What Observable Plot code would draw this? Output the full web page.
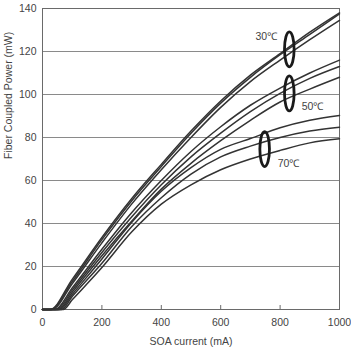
<!DOCTYPE html>
<html>
<head>
<meta charset="utf-8">
<script src="https://cdn.jsdelivr.net/npm/d3@7"></script>
<script src="https://cdn.jsdelivr.net/npm/@observablehq/plot@0.6"></script>
<style>
  html, body { margin: 0; padding: 0; background: #fff; }
  #chart { width: 351px; height: 351px; }
</style>
</head>
<body>
<div id="chart"></div>
<script>
// SOA current (mA) at which each power value is sampled
const current = [100, 200, 300, 400, 500, 600, 700, 800, 900, 1000];

// Lasing threshold (mA) of each curve, below which power stays at 0
const threshold30 = [25, 28, 32];
const threshold50 = [42, 48, 54];
const threshold70 = [58, 64, 70];

// Fiber coupled power (mW) at 30 ℃
const power30a = [14, 33.5, 51.5, 67.5, 83, 97, 109, 119, 129, 138];
const power30b = [13, 32.5, 50.5, 66.5, 82, 96, 108, 118.5, 128, 137.5];
const power30c = [12, 31, 49, 65, 80, 94, 106, 116, 125.5, 134.5];

// Fiber coupled power (mW) at 50 ℃
const power50a = [10, 28, 45, 60, 73.5, 85, 95, 103, 110, 116];
const power50b = [9, 26.5, 43, 58, 71, 82, 92, 100.5, 107.5, 113];
const power50c = [8, 25, 41, 56, 68, 78.5, 88, 96.5, 102.5, 108];

// Fiber coupled power (mW) at 70 ℃
const power70a = [7, 23.5, 40.5, 55, 66, 74.5, 79.5, 84.5, 88, 90.2];
const power70b = [6, 21.5, 38.5, 52, 63, 71, 76, 80, 83, 84.8];
const power70c = [4.5, 19.5, 36, 49, 58, 65, 70, 74, 77.5, 79.4];

// Temperature group markers: ellipse centre (current, power) and label
const groupLabels = ["30℃", "50℃", "70℃"];
const markerCurrent = [831, 831, 748];
const markerPower = [121, 100.5, 74.6];
const labelCurrent = [790, 873, 792];
const labelPower = [127, 94.2, 68];
const labelAnchor = ["end", "start", "start"];

const xTicks = [0, 200, 400, 600, 800, 1000];
const yTicks = [0, 20, 40, 60, 80, 100, 120, 140];

// Build one row per sample point, with the flat zero-power segment before threshold
const series = [
  ["30a", threshold30[0], power30a], ["30b", threshold30[1], power30b], ["30c", threshold30[2], power30c],
  ["50a", threshold50[0], power50a], ["50b", threshold50[1], power50b], ["50c", threshold50[2], power50c],
  ["70a", threshold70[0], power70a], ["70b", threshold70[1], power70b], ["70c", threshold70[2], power70c]
];
const rows = [];
for (const [id, th, values] of series) {
  rows.push({id, current: 0, power: 0});
  rows.push({id, current: th, power: 0});
  current.forEach((c, i) => rows.push({id, current: c, power: values[i]}));
}

const markers = groupLabels.map((label, i) => ({
  label,
  current: markerCurrent[i],
  power: markerPower[i],
  labelCurrent: labelCurrent[i],
  labelPower: labelPower[i],
  anchor: labelAnchor[i]
}));

// Upright ellipse drawn as a custom dot symbol
const ellipseSymbol = {
  draw(context) {
    const rx = 4.8, ry = 17.5, k = 0.5523;
    context.moveTo(0, -ry);
    context.bezierCurveTo(rx * k, -ry, rx, -ry * k, rx, 0);
    context.bezierCurveTo(rx, ry * k, rx * k, ry, 0, ry);
    context.bezierCurveTo(-rx * k, ry, -rx, ry * k, -rx, 0);
    context.bezierCurveTo(-rx, -ry * k, -rx * k, -ry, 0, -ry);
    context.closePath();
  }
};

const font = "'Liberation Sans', Arial, Helvetica, sans-serif";

const chart = Plot.plot({
  width: 351,
  height: 351,
  marginLeft: 42,
  marginRight: 12,
  marginTop: 8,
  marginBottom: 42,
  style: {fontFamily: font, fontSize: "10.5px", color: "#444", background: "#fff"},
  x: {domain: [0, 1000]},
  y: {domain: [0, 140]},
  marks: [
    Plot.ruleY(yTicks.filter(d => d > 0 && d < 140), {stroke: "#8a8a8a", strokeWidth: 1}),
    Plot.frame({stroke: "#6a6a6a", strokeWidth: 1}),
    Plot.tickX(xTicks.filter(d => d > 0 && d < 1000), {x: d => d, stroke: "#6a6a6a", insetTop: 297}),
    Plot.axisX({ticks: xTicks, tickFormat: d => String(d), tickSize: 0, tickPadding: 9, label: null, fill: "#444"}),
    Plot.axisY({ticks: yTicks, tickFormat: d => String(d), tickSize: 0, tickPadding: 6, label: null, fill: "#444"}),
    Plot.text(["SOA current (mA)"], {frameAnchor: "bottom", dy: 35, fill: "#444", fontSize: 10.5}),
    Plot.text(["Fiber Coupled Power (mW)"], {frameAnchor: "left", rotate: -90, dx: -34, fill: "#444", fontSize: 10.5}),
    Plot.line(rows, {x: "current", y: "power", z: "id", curve: "monotone-x", stroke: "#333", strokeWidth: 1.5}),
    Plot.dot(markers, {x: "current", y: "power", symbol: ellipseSymbol, stroke: "#1a1a1a", strokeWidth: 2.8, fill: "none"}),
    Plot.text(markers, {x: "labelCurrent", y: "labelPower", text: "label", textAnchor: "start", fill: "#444", fontSize: 10.5,
      filter: d => d.anchor === "start"}),
    Plot.text(markers, {x: "labelCurrent", y: "labelPower", text: "label", textAnchor: "end", fill: "#444", fontSize: 10.5,
      filter: d => d.anchor === "end"})
  ]
});

document.getElementById("chart").appendChild(chart);
</script>
</body>
</html>
